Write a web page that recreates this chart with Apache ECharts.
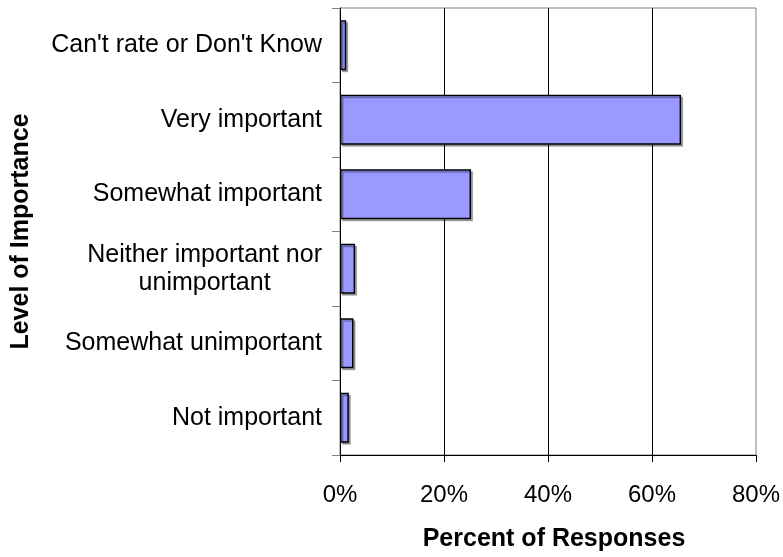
<!DOCTYPE html>
<html>
<head>
<meta charset="utf-8">
<script src="https://cdn.jsdelivr.net/npm/echarts@6/dist/echarts.min.js"></script>
<style>
html,body{margin:0;padding:0;background:#fff;}
#chart{width:783px;height:557px;}
</style>
</head>
<body>
<div id="chart"></div>
<script>
const categories = [
  "Can't rate or Don't Know",
  "Very important",
  "Somewhat important",
  "Neither important nor\nunimportant",
  "Somewhat unimportant",
  "Not important"
];
const percentValues = [1.2, 65.6, 25.2, 2.9, 2.6, 1.7];
const xTicks = { min: 0, max: 80, interval: 20 };
const xTitle = "Percent of Responses";
const yTitle = "Level of Importance";

const FONT = "'Liberation Sans', Arial, sans-serif";
const chart = echarts.init(document.getElementById('chart'), null, {renderer: 'canvas'});
chart.setOption({
  animation: false,
  backgroundColor: '#ffffff',
  grid: {
    left: 340, right: 26, top: 8, bottom: 95,
    show: true, borderColor: '#808080', borderWidth: 1
  },
  xAxis: {
    type: 'value',
    min: xTicks.min, max: xTicks.max, interval: xTicks.interval,
    name: xTitle,
    nameLocation: 'middle',
    nameGap: 72,
    nameTextStyle: { fontFamily: FONT, fontSize: 25, fontWeight: 'bold', color: '#000', lineHeight: 25, padding: [0, 0, 0, 12] },
    axisLine: { show: true, lineStyle: { color: '#000', width: 1 } },
    axisTick: { show: true, length: 7, lineStyle: { color: '#000' } },
    axisLabel: {
      formatter: '{value}%', fontFamily: FONT, fontSize: 24, color: '#000',
      margin: 28, lineHeight: 24
    },
    splitLine: { show: true, showMinLine: false, showMaxLine: false, lineStyle: { color: '#000', width: 1 } }
  },
  yAxis: {
    type: 'category',
    data: categories,
    inverse: true,
    name: yTitle,
    nameLocation: 'middle',
    nameGap: 306,
    nameRotate: 90,
    nameTextStyle: { fontFamily: FONT, fontSize: 25, fontWeight: 'bold', color: '#000', lineHeight: 25 },
    axisLine: { show: true, lineStyle: { color: '#000', width: 1 } },
    axisTick: { show: true, length: 8, lineStyle: { color: '#808080' } },
    axisLabel: {
      fontFamily: FONT, fontSize: 25, color: '#000', margin: 18, lineHeight: 28,
      formatter: function (v) {
        return v.split('\n').map(function (s) { return '{c|' + s + '}'; }).join('\n');
      },
      rich: { c: { align: 'center', fontFamily: FONT, fontSize: 25, color: '#000', lineHeight: 28 } }
    },
    splitLine: { show: false }
  },
  series: [{
    type: 'bar',
    data: percentValues,
    barWidth: 50,
    itemStyle: {
      color: '#9999FF',
      borderColor: '#000',
      borderWidth: 1.5,
      shadowColor: 'rgba(0,0,0,0.3)',
      shadowOffsetX: 2,
      shadowOffsetY: 2,
      shadowBlur: 0
    },
    emphasis: { disabled: true }
  }]
});
</script>
</body>
</html>
